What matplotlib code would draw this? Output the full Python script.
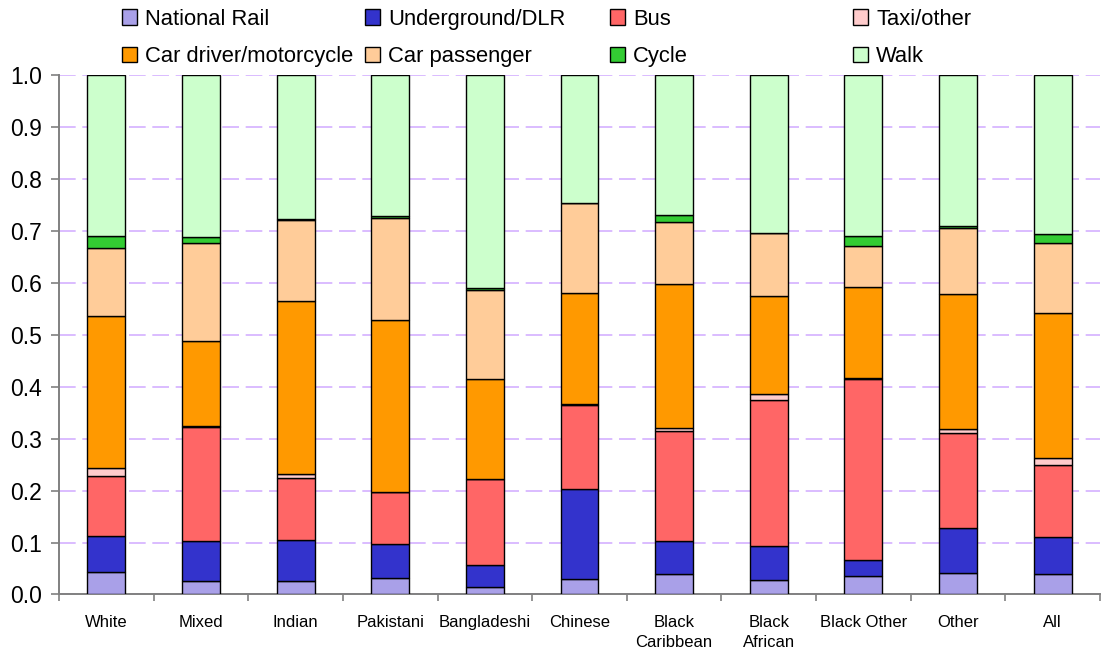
import matplotlib
matplotlib.use("Agg")
import matplotlib.pyplot as plt
import numpy as np

# ------------------------------------------------------------
# DATA  (share of trips by main mode, per ethnic group)
# ------------------------------------------------------------

groups = ["White", "Mixed", "Indian", "Pakistani", "Bangladeshi", "Chinese",
          "Black\nCaribbean", "Black\nAfrican", "Black Other", "Other", "All"]

national_rail = [0.044, 0.025, 0.025, 0.031, 0.014, 0.030, 0.039, 0.028, 0.035, 0.042, 0.040]
underground   = [0.068, 0.078, 0.080, 0.066, 0.042, 0.173, 0.064, 0.066, 0.031, 0.086, 0.070]
bus           = [0.116, 0.219, 0.120, 0.100, 0.166, 0.162, 0.212, 0.281, 0.349, 0.182, 0.139]
taxi_other    = [0.016, 0.002, 0.006, 0.001, 0.001, 0.001, 0.005, 0.010, 0.001, 0.009, 0.013]
car_driver    = [0.293, 0.163, 0.334, 0.330, 0.191, 0.215, 0.278, 0.189, 0.176, 0.259, 0.280]
car_passenger = [0.129, 0.189, 0.156, 0.196, 0.173, 0.173, 0.119, 0.121, 0.078, 0.127, 0.134]
cycle         = [0.024, 0.013, 0.002, 0.005, 0.003, 0.000, 0.014, 0.000, 0.021, 0.005, 0.018]
walk          = [0.310, 0.311, 0.277, 0.271, 0.410, 0.246, 0.269, 0.305, 0.309, 0.290, 0.306]

modes = ["National Rail", "Underground/DLR", "Bus", "Taxi/other",
         "Car driver/motorcycle", "Car passenger", "Cycle", "Walk"]
colors = ["#A9A0E8", "#3333CC", "#FF6666", "#FFCCCC",
          "#FF9900", "#FFCC99", "#33CC33", "#CCFFCC"]

series = [national_rail, underground, bus, taxi_other,
          car_driver, car_passenger, cycle, walk]

# ------------------------------------------------------------
# FIGURE
# ------------------------------------------------------------

plt.rcParams["font.family"] = ["Liberation Sans", "DejaVu Sans"]

fig = plt.figure(figsize=(11.01, 6.56), dpi=100)
ax = fig.add_axes([0.0536, 0.0938, 0.9454, 0.7919])

x = np.arange(len(groups))
bottom = np.zeros(len(groups))
handles = []
for vals, col, name in zip(series, colors, modes):
    b = ax.bar(x, vals, 0.4, bottom=bottom, color=col, edgecolor="black",
               linewidth=1.0, label=name, zorder=3)
    handles.append(b)
    bottom += np.array(vals)

ax.set_xlim(-0.5, len(groups) - 0.5)
ax.set_ylim(0, 1.0)

# y axis
ax.set_yticks(np.arange(0, 1.01, 0.1))
ax.set_yticklabels([f"{v:.1f}" for v in np.arange(0, 1.01, 0.1)])
ax.tick_params(axis="y", labelsize=16.5, length=6, width=1.2, color="#808080", pad=6)
ax.yaxis.grid(True, color="#D4B0FF", linestyle=(0, (10, 4)), linewidth=1.2)
ax.set_axisbelow(True)

# x axis: ticks between categories, labels at centres
ax.set_xticks(np.arange(-0.5, len(groups), 1.0))
ax.set_xticklabels([])
ax.set_xticks(x, minor=True)
ax.set_xticklabels(groups, minor=True, fontsize=12, linespacing=1.35)
ax.tick_params(axis="x", which="major", length=5, width=1.2, color="#808080")
ax.tick_params(axis="x", which="minor", length=0, pad=15)

for side in ["top", "right"]:
    ax.spines[side].set_visible(False)
for side in ["left", "bottom"]:
    ax.spines[side].set_color("#808080")
    ax.spines[side].set_linewidth(1.4)

# legend: four equal-width columns, two rows each
col_x = [122, 365, 610, 853]
for i, cx in enumerate(col_x):
    hs = [handles[i], handles[i + 4]]
    labs = [modes[i], modes[i + 4]]
    fig.legend(hs, labs, loc="center left", bbox_to_anchor=(cx / 1101, 1 - 38 / 656),
               frameon=False, fontsize=15.8, borderpad=0, borderaxespad=0,
               handlelength=0.7, handleheight=0.7, handletextpad=0.35,
               labelspacing=0.75)

fig.savefig("out.png", dpi=100)
